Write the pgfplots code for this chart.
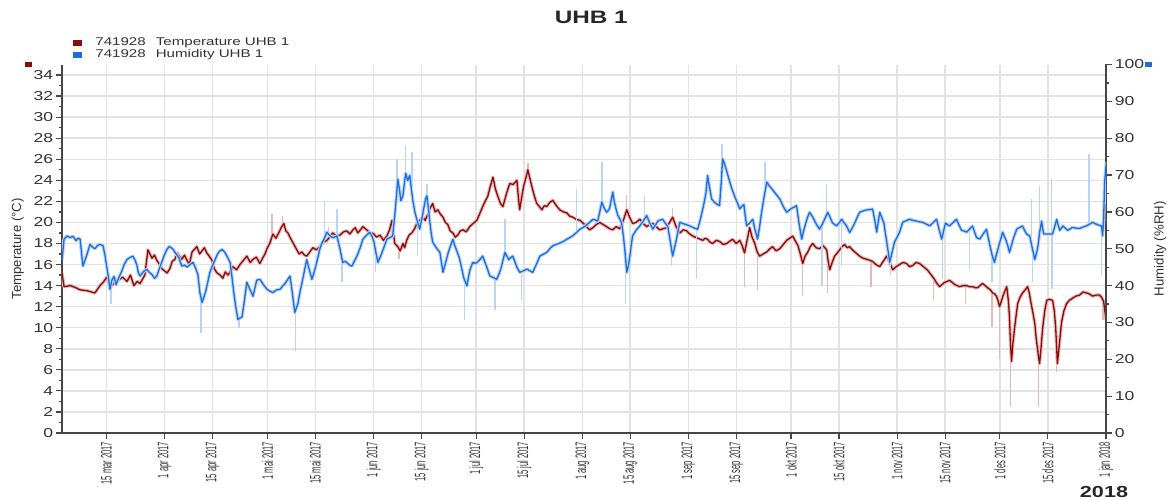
\documentclass[border=0pt]{standalone}
\usepackage{pgfplots}
\usepackage{pgfplotstable}
\pgfplotsset{compat=1.18}
\usetikzlibrary{calc}
\usepackage{fontspec}
\setmainfont{Liberation Sans}
\newfontfamily\widefont[FakeStretch=1.35]{Liberation Sans}
\newfontfamily\narrowfont[FakeStretch=0.5]{Liberation Sans}

\definecolor{tempred}{RGB}{140,10,10}
\definecolor{temppink}{RGB}{228,185,185}
\definecolor{humblue}{RGB}{28,110,222}
\definecolor{humlight}{RGB}{185,212,245}
\definecolor{gridgray}{RGB}{226,226,226}
\definecolor{axisgray}{RGB}{70,70,70}
\definecolor{txtgray}{RGB}{50,50,50}

% day of year 2017 (1 jan = 0), temperature in degC
\pgfplotstableread{
day T
60.0 15.2
60.6 13.9
62.5 14.0
64.0 13.8
65.3 13.6
67.5 13.5
69.6 13.3
71.1 14.0
72.0 14.3
73.1 14.8
74.0 13.9
75.2 14.2
76.4 14.5
77.7 14.8
79.0 14.4
80.0 15.0
81.0 14.0
82.0 14.4
82.8 14.2
84.2 15.0
85.1 17.4
86.3 16.6
87.0 16.9
87.7 16.4
88.5 16.0
89.2 15.6
90.7 15.2
91.5 15.6
92.2 16.3
93.0 16.5
93.6 17.1
95.0 16.5
95.8 16.9
96.5 16.4
97.2 16.0
98.0 17.2
99.4 17.7
100.2 17.0
100.9 17.3
101.6 17.6
102.3 17.1
103.0 16.8
103.8 16.4
104.5 15.6
105.3 15.2
106.2 15.0
107.0 14.7
107.7 15.3
108.5 15.0
109.3 15.4
109.9 15.8
111.0 15.5
112.0 16.0
113.0 16.4
114.0 16.8
115.0 16.2
115.8 16.5
116.8 16.7
117.8 16.1
118.6 16.6
119.3 17.0
120.0 17.6
120.7 18.0
121.6 18.9
122.5 18.5
123.3 19.0
124.2 19.6
124.8 19.9
125.4 19.2
126.0 19.0
126.6 18.6
127.6 18.0
128.6 17.4
129.3 17.0
130.1 17.2
130.8 16.9
131.5 16.8
132.4 17.2
133.3 17.6
134.3 17.4
135.3 17.7
136.3 18.1
137.4 18.3
138.2 18.6
139.1 19.0
140.2 18.7
141.2 18.8
142.2 19.1
143.2 19.2
144.1 18.9
145.0 19.3
145.7 19.5
146.4 19.0
147.2 19.3
147.9 19.6
148.6 19.4
149.4 19.2
150.1 18.8
150.8 19.0
151.9 18.6
152.9 18.8
153.9 18.3
154.9 18.7
155.7 19.3
156.4 20.2
157.2 18.0
158.1 17.7
158.8 17.3
159.6 18.0
160.1 17.6
160.7 18.3
161.4 18.8
162.2 19.0
163.0 19.4
163.7 19.9
164.5 20.2
165.4 20.5
166.1 20.2
166.9 20.8
167.6 21.4
168.3 21.8
169.0 21.0
169.8 21.2
170.5 20.8
171.3 20.5
172.0 20.0
172.7 19.8
173.4 19.2
174.2 19.0
174.9 18.6
175.6 18.8
176.4 19.2
177.1 19.3
178.1 19.1
179.1 19.6
180.1 19.9
181.2 20.2
182.0 20.8
182.9 21.5
183.6 22.0
184.4 22.5
185.1 23.4
185.9 24.3
186.6 23.2
187.3 22.5
188.1 21.8
188.8 21.5
189.4 22.2
189.9 22.8
190.8 23.7
191.8 23.6
192.9 24.0
193.3 22.5
193.7 21.2
194.3 22.4
194.9 23.5
195.5 24.2
196.1 25.0
196.6 24.3
197.2 23.5
198.0 22.5
198.7 21.8
199.5 21.5
200.2 21.2
200.9 21.6
201.6 21.5
202.5 21.9
203.4 22.1
204.4 21.6
205.4 21.2
206.5 21.0
207.5 20.9
208.3 20.6
209.2 20.5
210.2 20.3
211.3 20.2
212.0 20.0
212.7 19.8
213.5 19.5
214.2 19.3
215.1 19.5
216.1 19.8
217.1 20.0
218.1 19.8
219.1 19.6
220.0 19.4
220.9 19.3
221.9 19.6
222.9 19.4
224.0 20.2
225.0 21.2
225.8 20.5
226.7 19.9
227.7 20.0
228.8 20.3
229.8 19.9
230.8 19.6
231.7 19.8
232.6 19.9
233.6 19.6
234.6 19.3
235.6 19.4
236.7 19.5
237.5 20.0
238.4 20.5
239.4 19.6
240.5 19.0
241.5 19.3
242.5 19.2
243.4 18.9
244.3 18.7
245.0 18.6
245.7 18.5
246.5 18.4
247.2 18.3
247.9 18.5
248.6 18.4
249.4 18.1
250.1 18.0
251.1 18.3
252.1 18.2
253.2 17.9
254.2 18.0
255.0 18.2
255.9 18.4
257.0 18.0
258.0 18.3
258.7 17.8
259.4 17.1
260.2 18.4
260.9 19.5
261.6 18.6
262.4 18.0
263.1 17.2
263.8 16.8
264.8 17.0
265.9 17.2
266.8 17.5
267.6 17.7
268.6 17.3
269.7 17.5
270.7 17.9
271.7 18.3
272.6 18.5
273.5 18.7
274.3 18.2
275.0 17.8
275.7 17.0
276.4 16.1
277.1 16.8
277.9 17.2
278.6 17.7
279.3 18.0
280.3 17.6
281.3 17.5
282.3 17.8
283.4 17.4
283.8 16.4
284.3 15.5
285.0 16.2
285.7 16.8
286.5 17.1
287.2 17.4
287.9 17.7
288.6 17.9
289.4 17.6
290.1 17.7
290.9 17.4
291.6 17.2
292.3 17.0
293.0 16.8
294.0 16.6
295.1 16.5
296.0 16.4
296.8 16.3
297.8 16.0
298.9 15.8
299.9 16.3
300.9 16.8
301.8 16.2
302.7 15.5
303.7 15.8
304.7 16.0
305.7 16.2
306.7 16.1
307.6 15.8
308.5 15.9
309.5 16.2
310.5 16.1
311.3 15.9
312.0 15.7
312.8 15.5
313.5 15.2
314.2 14.9
314.9 14.6
315.6 14.2
316.4 13.9
317.1 14.1
317.8 14.3
318.6 14.4
319.3 14.5
320.1 14.3
320.8 14.1
321.5 14.0
322.2 13.9
323.3 14.0
324.3 14.0
325.1 13.9
326.0 13.9
326.8 13.8
327.5 13.8
328.2 14.0
328.9 14.2
329.7 14.0
330.4 13.8
331.2 13.6
331.9 13.3
332.5 13.2
333.0 13.0
333.5 12.5
333.9 12.0
334.5 12.6
335.1 13.2
336.0 13.9
336.5 12.5
336.8 11.0
337.1 8.5
337.4 6.8
337.8 8.5
338.3 10.0
338.8 11.3
339.2 12.3
339.9 12.9
340.6 13.3
341.4 13.6
342.1 13.9
342.6 13.3
343.0 12.5
343.6 11.5
344.2 10.4
344.6 9.0
345.0 8.0
345.3 7.2
345.6 6.6
346.0 8.0
346.5 10.0
347.1 11.6
347.7 12.6
348.5 12.7
349.4 12.6
349.9 11.6
350.3 10.0
350.6 8.0
350.8 6.6
351.4 8.5
352.0 10.5
352.7 11.6
353.5 12.3
354.3 12.6
355.2 12.8
356.2 13.0
357.3 13.1
358.3 13.4
359.3 13.3
360.2 13.2
361.1 13.0
362.1 13.1
363.1 13.1
363.7 12.9
364.3 12.5
364.7 11.5
365.1 10.7
}\temptable

% short excursions of the raw temperature readings (start value, extreme value)
\pgfplotstableread{
day T
121.3 18.5
121.3 20.8
121.3 nan
124.5 19.5
124.5 20.6
124.5 nan
137.8 18.3
137.8 19.6
137.8 nan
158.5 17.7
158.5 16.5
158.5 nan
196.1 25.0
196.1 25.6
196.1 nan
225.0 21.2
225.0 22.6
225.0 nan
238.4 20.5
238.4 21.4
238.4 nan
259.4 17.1
259.4 13.9
259.4 nan
263.2 17.2
263.2 13.6
263.2 nan
276.4 16.1
276.4 13.0
276.4 nan
283.7 17.0
283.7 13.3
283.7 nan
296.3 16.3
296.3 13.9
296.3 nan
314.6 14.8
314.6 12.6
314.6 nan
324.0 14.0
324.0 12.3
324.0 nan
331.7 13.4
331.7 10.1
331.7 nan
333.9 12.0
333.9 7.0
333.9 nan
337.1 8.0
337.1 2.5
337.1 nan
345.3 7.2
345.3 2.5
345.3 nan
350.6 8.0
350.6 5.8
350.6 nan
364.1 12.6
364.1 10.7
}\tempspikes

% day of year 2017, relative humidity in %RH
\pgfplotstableread{
day H
60.0 47.0
60.6 52.6
61.5 53.5
62.3 53.0
63.2 53.4
64.1 52.2
64.7 52.9
65.3 52.6
65.7 49.0
66.1 45.3
66.7 46.8
67.3 48.5
68.2 51.2
68.9 50.5
69.6 50.0
70.4 50.9
71.1 51.2
72.0 50.8
72.6 48.0
73.1 45.0
73.6 42.0
74.0 39.0
74.6 41.5
75.2 42.5
75.8 40.2
76.4 41.7
77.0 43.0
77.5 44.0
78.2 45.8
79.0 47.1
79.8 47.6
80.7 48.0
81.3 47.0
81.9 45.5
82.3 43.5
82.8 42.6
83.8 43.8
84.8 44.4
85.5 43.6
86.3 43.0
87.0 42.0
87.7 42.6
88.4 44.5
89.2 46.5
89.9 48.3
90.7 49.9
91.3 50.6
91.9 50.3
92.5 49.8
93.0 49.0
93.6 48.3
94.2 47.5
94.6 46.3
95.0 45.3
95.8 45.6
96.5 45.0
97.4 45.7
98.3 46.3
99.0 44.8
99.7 43.0
100.3 38.0
100.9 35.4
101.5 37.0
102.0 38.5
102.6 41.0
103.2 43.6
104.0 45.5
104.7 47.0
105.4 48.5
106.1 49.4
106.8 49.8
107.6 49.0
108.3 47.8
109.1 46.3
109.7 42.0
110.2 38.0
110.8 34.0
111.4 30.8
112.0 31.2
112.6 31.5
113.3 36.0
114.0 40.9
114.9 39.0
115.8 37.1
116.4 39.5
116.9 41.5
117.8 41.7
118.9 40.2
119.9 39.0
120.7 38.5
121.6 38.1
122.6 38.8
123.7 39.0
124.4 39.8
125.1 40.5
125.8 41.5
126.6 42.6
127.3 38.0
128.0 32.7
128.5 34.0
128.9 35.0
129.5 38.1
130.5 42.5
131.5 47.1
132.2 44.5
133.0 41.7
133.6 43.5
134.2 45.5
134.8 47.8
135.3 49.9
135.9 51.5
136.5 52.5
137.0 53.6
137.4 54.5
138.2 53.6
139.1 53.0
139.7 53.2
140.3 53.5
141.2 50.0
142.0 46.3
142.8 46.6
143.5 46.0
144.1 45.5
144.7 45.3
145.5 46.8
146.4 48.5
147.2 50.5
147.9 52.6
148.9 53.6
149.9 54.5
150.5 53.5
151.1 52.0
151.7 49.0
152.3 46.3
153.0 47.8
153.7 49.5
154.3 51.0
154.9 52.6
155.8 53.0
156.6 53.5
157.1 58.0
157.5 62.0
158.1 68.9
158.6 66.0
159.0 63.0
159.6 64.4
160.0 67.5
160.4 70.5
161.0 68.5
161.6 69.9
162.1 66.0
162.5 63.0
163.1 59.9
163.8 57.5
164.5 55.3
165.1 58.0
165.7 61.0
166.2 63.5
166.6 64.4
167.1 60.5
167.5 57.0
167.9 54.0
168.3 51.8
169.4 50.2
170.4 49.0
170.9 46.0
171.3 43.6
172.0 46.0
172.7 48.5
173.5 50.8
174.2 52.6
174.7 51.0
175.1 50.0
175.7 48.5
176.2 47.1
176.8 44.5
177.4 42.0
178.3 39.9
178.7 42.0
179.1 44.0
180.0 46.3
180.7 46.0
181.5 46.5
182.2 47.2
182.9 48.0
183.5 46.5
184.1 45.0
185.0 42.6
186.0 42.2
187.0 41.7
187.6 43.0
188.2 44.5
188.8 46.8
189.4 49.0
190.0 48.0
190.5 47.0
191.1 47.6
191.7 48.0
192.3 46.5
192.9 45.0
193.7 43.6
194.8 44.0
195.8 44.5
196.7 44.0
197.5 43.6
198.1 44.8
198.7 46.0
199.6 48.0
200.6 48.5
201.6 49.0
202.5 50.0
203.4 50.8
204.4 51.2
205.4 51.5
206.5 52.0
207.5 52.6
208.3 53.0
209.2 53.5
210.3 54.4
211.3 55.3
212.3 55.8
213.3 56.5
214.2 57.2
215.1 58.0
215.8 57.8
216.5 57.5
217.1 60.0
217.7 62.7
218.4 61.0
219.1 59.9
219.6 60.4
220.0 61.0
220.5 63.5
220.9 65.4
221.3 63.0
221.8 61.0
222.4 59.0
223.0 58.0
223.5 57.0
224.0 53.5
224.4 50.0
225.0 43.6
225.5 45.5
225.9 48.0
226.3 51.0
226.7 53.5
227.7 55.0
228.8 56.2
229.8 57.5
230.8 59.0
231.7 57.0
232.6 55.3
233.4 56.5
234.1 57.5
234.8 57.8
235.5 58.0
236.2 57.0
237.0 56.0
237.7 52.0
238.4 48.0
239.0 50.5
239.6 53.0
240.0 55.0
240.5 57.2
241.5 56.8
242.5 56.5
243.4 56.2
244.5 55.7
245.7 55.3
246.5 58.0
247.2 60.8
247.7 63.0
248.1 65.0
248.6 69.9
249.2 66.5
249.8 63.5
250.5 62.7
251.3 62.1
252.1 61.7
252.6 68.0
253.0 74.4
253.5 73.2
253.9 72.0
254.5 70.0
255.1 68.1
255.8 66.0
256.6 64.0
257.3 62.5
258.0 60.8
258.6 61.5
259.2 62.0
259.6 59.0
260.0 56.2
260.9 57.0
261.8 58.0
262.5 55.0
263.2 52.6
263.8 56.0
264.4 60.0
265.1 64.0
265.9 68.1
266.7 67.0
267.6 66.0
268.6 64.8
269.7 63.5
270.7 61.5
271.7 59.9
272.5 60.5
273.2 61.0
273.9 61.3
274.6 61.7
275.3 57.0
276.1 52.6
276.7 55.0
277.3 57.0
277.8 58.5
278.4 59.9
279.2 58.8
279.9 57.5
280.6 56.3
281.3 55.3
282.0 56.5
282.8 58.0
283.7 59.9
284.4 58.5
285.1 57.0
286.3 56.2
287.0 57.0
287.8 58.0
288.5 57.0
289.2 56.2
290.1 54.4
290.8 55.5
291.6 57.0
292.3 58.5
293.0 59.9
293.9 60.2
294.8 60.5
295.8 60.6
296.8 60.8
297.4 58.0
298.0 54.5
298.5 57.5
298.9 59.9
299.5 58.5
300.1 57.0
300.5 54.5
300.9 52.0
301.4 49.0
301.8 46.3
302.5 49.0
303.2 51.8
304.0 53.2
304.7 54.5
305.2 56.0
305.6 57.2
306.6 57.6
307.6 58.0
308.6 57.7
309.7 57.5
310.5 57.3
311.4 57.2
312.5 56.7
313.5 56.2
314.5 57.1
315.5 58.0
316.3 55.0
317.0 52.6
317.6 55.0
318.1 57.0
318.7 56.5
319.3 56.2
320.3 57.1
321.3 58.0
322.0 56.5
322.8 55.0
323.6 54.8
324.3 54.5
325.2 55.4
326.0 56.2
326.6 54.5
327.2 53.0
327.7 52.8
328.1 52.6
329.1 54.0
330.1 55.3
330.7 52.5
331.3 50.0
331.8 48.0
332.4 46.3
333.0 48.5
333.6 50.5
334.2 52.5
334.8 54.5
335.4 53.2
335.9 52.0
336.4 50.5
336.8 49.0
337.4 51.0
338.0 53.0
338.5 54.2
338.9 55.3
339.8 55.8
340.6 56.2
341.2 55.0
341.8 54.0
342.3 53.7
342.7 53.5
343.5 50.0
344.2 47.1
344.6 48.5
345.0 50.0
345.3 52.0
345.6 54.5
345.9 56.0
346.2 57.5
346.5 55.5
346.8 54.0
348.0 54.0
349.4 54.0
350.0 56.0
350.6 58.0
351.0 56.5
351.5 55.0
352.0 55.6
352.4 56.2
353.1 55.6
353.8 55.0
354.5 55.4
355.2 55.8
356.2 55.6
357.3 55.5
358.3 55.9
359.3 56.2
360.2 56.7
361.1 57.2
361.8 56.8
362.6 56.5
363.2 56.3
363.7 56.2
364.0 53.5
364.3 58.0
364.6 68.0
365.1 73.5
}\humtable

% short excursions of the raw humidity readings (start value, extreme value)
\pgfplotstableread{
day H
74.3 42.0
74.3 34.9
74.3 nan
100.6 37.0
100.6 27.2
100.6 nan
111.7 31.0
111.7 28.5
111.7 nan
128.3 33.5
128.3 22.2
128.3 nan
136.7 52.5
136.7 63.0
136.7 nan
140.3 53.5
140.3 60.8
140.3 nan
141.8 47.0
141.8 40.9
141.8 nan
151.5 50.0
151.5 43.6
151.5 nan
157.9 64.0
157.9 74.4
157.9 nan
160.3 69.0
160.3 78.0
160.3 nan
162.3 65.0
162.3 76.3
162.3 nan
163.8 57.5
163.8 48.0
163.8 nan
166.6 64.4
166.6 67.6
166.6 nan
177.6 41.0
177.6 30.8
177.6 nan
186.5 42.0
186.5 33.5
186.5 nan
189.4 49.0
189.4 58.0
189.4 nan
194.2 43.8
194.2 36.2
194.2 nan
210.3 54.4
210.3 66.2
210.3 nan
217.7 62.7
217.7 73.5
217.7 nan
224.6 48.0
224.6 34.9
224.6 nan
230.2 58.0
230.2 64.4
230.2 nan
238.1 49.0
238.1 45.3
238.1 nan
245.4 55.5
245.4 41.7
245.4 nan
252.8 72.0
252.8 78.5
252.8 nan
265.4 65.0
265.4 73.5
265.4 nan
282.0 56.5
282.0 39.9
282.0 nan
283.4 59.5
283.4 67.6
283.4 nan
287.8 57.5
287.8 45.3
287.8 nan
302.0 47.0
302.0 43.0
302.0 nan
317.3 53.0
317.3 41.7
317.3 nan
325.2 55.0
325.2 44.4
325.2 nan
331.7 49.0
331.7 40.9
331.7 nan
343.3 51.0
343.3 63.5
343.3 nan
343.6 50.0
343.6 40.9
343.6 nan
345.6 54.5
345.6 67.1
345.6 nan
349.0 54.0
349.0 68.9
349.0 nan
349.2 54.0
349.2 39.0
349.2 nan
360.0 56.5
360.0 75.7
360.0 nan
363.6 56.2
363.6 42.6
}\humspikes

\pgfplotsset{
  dualaxis/.style={
    width=522pt, height=184.25pt, scale only axis,
    xmin=60, xmax=365,
    tick align=outside,
    major tick length=3pt, minor tick length=1.6pt,
    axis line style={axisgray, line width=0.75pt},
    tick style={axisgray, line width=0.6pt},
    /pgf/number format/assume math mode=true,
    yticklabel style={font=\widefont\fontsize{6.5}{7}\selectfont, text=txtgray, inner sep=1.2pt},
    ylabel style={font=\fontsize{6.6}{7}\selectfont, text=txtgray},
    unbounded coords=jump,
  },
}

\begin{document}
\begin{tikzpicture}
\path[use as bounding box] (-31pt,-33pt) rectangle (555.5pt,216.5pt);

% temperature, left axis
\begin{axis}[
  dualaxis, name=tax,
  ymin=0, ymax=35,
  axis x line*=bottom, axis y line*=left,
  ytick={0,2,...,34}, minor y tick num=1,
  xtick={73,90,104,120,134,151,165,181,195,212,226,243,257,273,287,304,318,334,348,365},
  xticklabels={15 mar 2017,1 apr 2017,15 apr 2017,1 mai 2017,15 mai 2017,1 jun 2017,15 jun 2017,1 jul 2017,15 jul 2017,1 aug 2017,15 aug 2017,1 sep 2017,15 sep 2017,1 okt 2017,15 okt 2017,1 nov 2017,15 nov 2017,1 des 2017,15 des 2017,1 jan 2018},
  xticklabel style={rotate=90, anchor=east, font=\narrowfont\fontsize{7.6}{8}\selectfont, text=txtgray, inner sep=1.2pt},
  grid=major, major grid style={gridgray, line width=0.75pt},
  ylabel={Temperature (°C)},
  ylabel style={at={(axis description cs:-0.0425,0.5)}, anchor=center},
]
\addplot[temppink, line width=1.7pt, line join=round] table[x=day, y=T] {\temptable};
\addplot[temppink, line width=0.7pt] table[x=day, y=T] {\tempspikes};
\addplot[tempred, line width=0.65pt, line join=round] table[x=day, y=T] {\temptable};
\end{axis}

% relative humidity, right axis
\begin{axis}[
  dualaxis, name=hax,
  ymin=0, ymax=100,
  axis x line=none, axis y line*=right,
  ytick={0,10,...,100}, minor y tick num=1,
  ylabel={Humidity (\%RH)},
  ylabel style={at={(axis description cs:1.052,0.5)}, anchor=center},
  legend style={at={(axis description cs:0.0105,1.08)}, anchor=north west, draw=none, fill=none,
    font=\widefont\fontsize{5.6}{6.2}\selectfont, text=txtgray, inner sep=0pt, row sep=-1.2pt,
    nodes={inner sep=1pt}, /tikz/column 1/.style={column sep=6pt}},
  legend cell align=left,
  legend image code/.code={\fill[#1] (0pt,-1.2pt) rectangle (3.6pt,1.3pt);},
]
\addlegendimage{tempred}
\addlegendentry{741928\hspace{5pt}Temperature UHB 1}
\addlegendimage{humblue}
\addlegendentry{741928\hspace{5pt}Humidity UHB 1}
\addplot[humlight, line width=1.7pt, line join=round, forget plot] table[x=day, y=H] {\humtable};
\addplot[humlight, line width=0.7pt, forget plot] table[x=day, y=H] {\humspikes};
\addplot[humblue, line width=0.65pt, line join=round, forget plot] table[x=day, y=H] {\humtable};
\end{axis}

% series keys beside the two scales, title and year
\fill[tempred] (tax.north west) ++(-18.5pt,-1.5pt) rectangle ++(3.6pt,2.6pt);
\fill[humblue] (hax.north east) ++(19.5pt,-1.5pt) rectangle ++(3.6pt,2.6pt);
\node[font=\widefont\bfseries\fontsize{9}{10}\selectfont, text=black!85] at ($(tax.north west)!0.507!(tax.north east)$) [yshift=23.5pt] {UHB 1};
\node[font=\widefont\bfseries\fontsize{8}{9}\selectfont, text=black!85] at (tax.south east) [xshift=-1pt, yshift=-29.5pt] {2018};
\end{tikzpicture}
\end{document}
